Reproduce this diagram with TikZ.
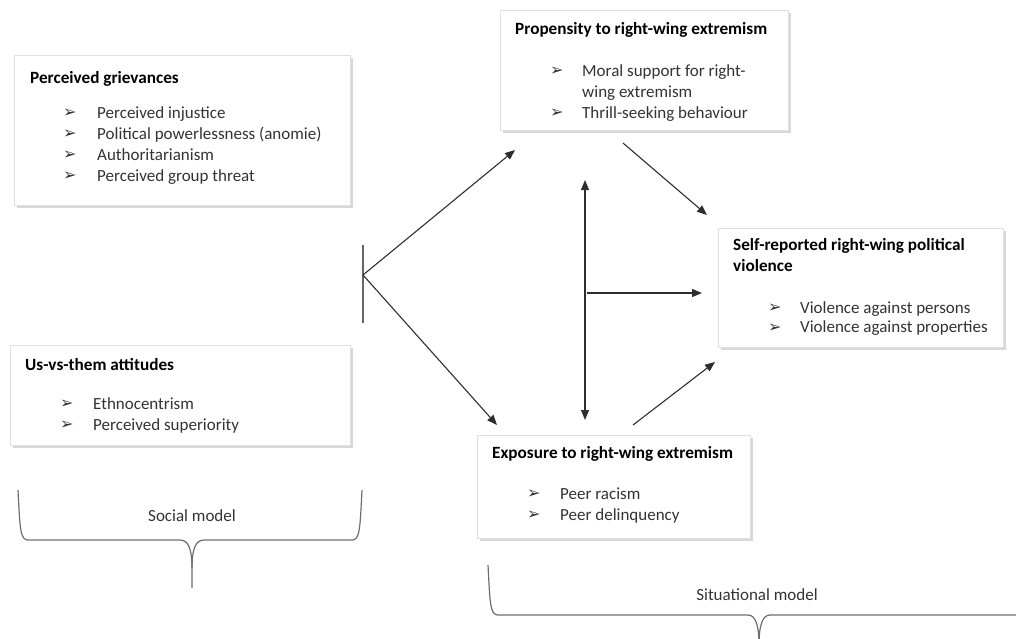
\documentclass[tikz,border=0pt]{standalone}
\usepackage{fontspec}
\setmainfont{Carlito}
\newfontfamily\dejavu{DejaVu Sans}
\usetikzlibrary{arrows.meta,shadows}
\definecolor{txt}{HTML}{333333}
\definecolor{ln}{HTML}{2E2E2E}
\definecolor{br}{HTML}{6E6E6E}
\newcommand{\bul}{{\dejavu\fontsize{16}{16}\selectfont\raisebox{0.5pt}{➢}}}
\newcommand{\lst}[2]{\begin{tabular}[t]{@{}p{#1}@{}l@{}}#2\end{tabular}}
\begin{document}
\begin{tikzpicture}[x=1pt,y=-1pt,
  box/.style={draw=black!12, fill=white, line width=0.6pt,
    drop shadow={shadow xshift=2.5pt,shadow yshift=-3pt,fill=black!30},
    inner sep=0pt},
  ttl/.style={anchor=base west, inner sep=0pt, font=\fontsize{17.2}{21}\selectfont\bfseries, text=black},
  itm/.style={anchor=base west, inner sep=0pt, font=\fontsize{17}{21}\selectfont, text=txt},
  lbl/.style={inner sep=0pt, font=\fontsize{17}{21}\selectfont, text=txt},
  arr/.style={draw=ln, line width=1.1pt, -{Triangle[length=10pt,width=8pt]}},
  dbl/.style={draw=ln, line width=1.1pt, {Triangle[length=10pt,width=8pt]}-{Triangle[length=10pt,width=8pt]}},
  plain/.style={draw=black!60, line width=1.3pt},
  brace/.style={draw=br, line width=1.2pt}]
\useasboundingbox (0,0) rectangle (1016,638);
\clip (0,0) rectangle (1016,638);

% boxes
\node[box, minimum width=336pt, minimum height=150pt] (pg) at (182,130) {};
\node[box, minimum width=288pt, minimum height=120pt] (pr) at (644,70) {};
\node[box, minimum width=285pt, minimum height=119pt] (sr) at (860.5,287.5) {};
\node[box, minimum width=340pt, minimum height=100pt] (us) at (180,395) {};
\node[box, minimum width=273pt, minimum height=103pt] (ex) at (613.5,486.5) {};

% texts
\node[ttl] (pgt) at (30,83) {Perceived grievances};
\node[itm] (pgl) at (63,118) {\lst{34pt}{\bul & Perceived injustice\\ \bul & Political powerlessness (anomie)\\ \bul & Authoritarianism\\ \bul & Perceived group threat}};

\node[ttl] (prt) at (515,34) {Propensity to right-wing extremism};
\node[itm] (prl) at (550,76) {\lst{32pt}{\bul & Moral support for right-\\ & wing extremism\\ \bul & Thrill-seeking behaviour}};

\node[ttl] (srt) at (733,250) {\begin{tabular}[t]{@{}l@{}}Self-reported right-wing political\\ violence\end{tabular}};
\node[itm] (srl) at (768,313) {\renewcommand\arraystretch{0.93}\lst{32pt}{\bul & Violence against persons\\ \bul & Violence against properties}};

\node[ttl] (ust) at (25,370) {Us-vs-them attitudes};
\node[itm] (usl) at (60,409) {\lst{33pt}{\bul & Ethnocentrism\\ \bul & Perceived superiority}};

\node[ttl] (ext) at (492,458) {Exposure to right-wing extremism};
\node[itm] (exl) at (527,499) {\lst{33pt}{\bul & Peer racism\\ \bul & Peer delinquency}};

% connectors
\coordinate (jb1) at (363,245);
\coordinate (jb2) at (363,323);
\coordinate (j) at (363,275);
\coordinate (pa) at (515,150);
\coordinate (ea) at (497,425);
\coordinate (p1) at (623,143);
\coordinate (s1) at (707,215);
\coordinate (v1) at (585,180);
\coordinate (v2) at (585,420);
\coordinate (h1) at (587,293);
\coordinate (h2) at (702,293);
\coordinate (e1) at (633,425);
\coordinate (s2) at (715,362);

\draw[plain] (jb1) -- (jb2);
\draw[arr] (j) -- (pa);
\draw[arr] (j) -- (ea);
\draw[arr] (p1) -- (s1);
\draw[dbl] (v1) -- (v2);
\draw[arr] (h1) -- (h2);
\draw[arr] (e1) -- (s2);

% braces
\draw[brace] (18,490) .. controls (20,528) and (20,540) .. (28,540) -- (180,540) .. controls (188,540) and (192,548) .. (192,568) -- (192,588);
\draw[brace] (362,490) .. controls (360,528) and (360,540) .. (352,540) -- (204,540) .. controls (196,540) and (192,548) .. (192,568);
\node[lbl] (soc) at (192,516) {Social model};

\draw[brace] (488,565) .. controls (490,603) and (490,615) .. (498,615) -- (748,615) .. controls (755,615) and (759,624) .. (759,645);
\draw[brace] (1030,565) .. controls (1028,603) and (1028,615) .. (1020,615) -- (770,615) .. controls (763,615) and (759,624) .. (759,645);
\node[lbl] (sit) at (757,595) {Situational model};
\end{tikzpicture}
\end{document}
